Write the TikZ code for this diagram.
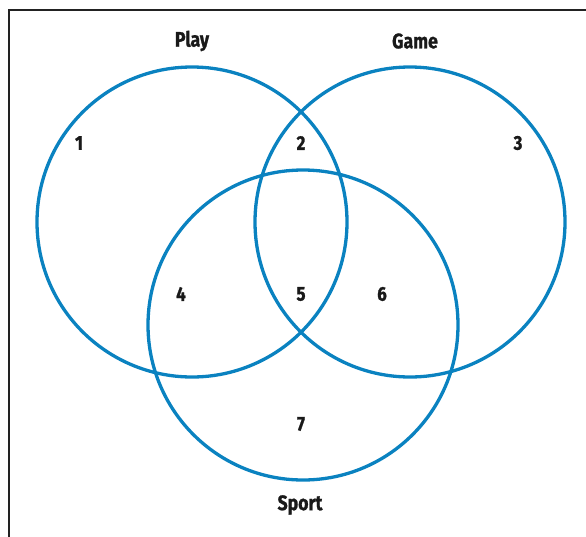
\documentclass[tikz,border=0pt]{standalone}
\usepackage{fontspec}
\setmainfont{Fira Sans}[FakeStretch=0.84,BoldFeatures={FakeBold=1.2}]
\definecolor{vennblue}{HTML}{0A82C0}
\definecolor{frame}{HTML}{222222}
\begin{document}
\begin{tikzpicture}[x=1pt,y=-1pt,
  venn/.style={draw=vennblue,line width=3.3pt},
  lbl/.style={font=\fontsize{21}{24}\selectfont\bfseries,text=black!90,inner sep=0pt},
  num/.style={font=\fontsize{20}{24}\selectfont\bfseries,text=black!90,inner sep=0pt}]
\useasboundingbox (0,0) rectangle (586,536);
\draw[frame,line width=1.2pt] (9,545) -- (9,10) -- (600,10);
\node[venn,circle,minimum size=310pt,inner sep=0pt] (play) at (192,222) {};
\node[venn,circle,minimum size=310pt,inner sep=0pt] (game) at (410,222) {};
\node[venn,circle,minimum size=310pt,inner sep=0pt] (sport) at (303,325) {};
\node[lbl] (tplay) at (192,41) {Play};
\node[lbl] (tgame) at (415,41) {Game};
\node[lbl] (tsport) at (300,505) {Sport};
\node[num] (n1) at (79,143) {1};
\node[num] (n2) at (301,143) {2};
\node[num] (n3) at (518,143) {3};
\node[num] (n4) at (181,294) {4};
\node[num] (n5) at (301,294) {5};
\node[num] (n6) at (382,294) {6};
\node[num] (n7) at (301,424) {7};
\end{tikzpicture}
\end{document}
